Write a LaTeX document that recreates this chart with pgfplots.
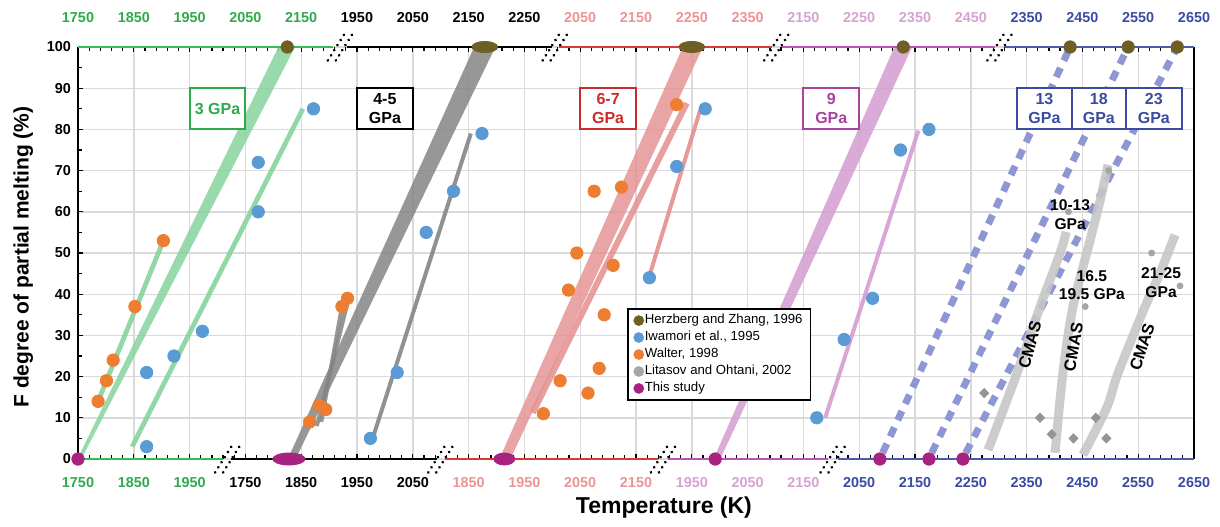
\documentclass[border=0pt]{standalone}
\usepackage{fontspec}
\setmainfont{Liberation Sans}
\usepackage{pgfplots}
\pgfplotsset{compat=1.18}
\usetikzlibrary{calc}

\definecolor{cHZ}{HTML}{6E6024}
\definecolor{cIW}{HTML}{5B9BD5}
\definecolor{cWA}{HTML}{ED7D31}
\definecolor{cLO}{HTML}{A5A5A5}
\definecolor{cTS}{HTML}{A8237F}
\definecolor{gBand}{HTML}{86D39C}
\definecolor{gText}{HTML}{2EAA4D}
\definecolor{gAxis}{HTML}{3BBA5A}
\definecolor{kBand}{HTML}{858585}
\definecolor{rBand}{HTML}{E48E8E}
\definecolor{rText}{HTML}{CC2B2B}
\definecolor{rTick}{HTML}{EC9494}
\definecolor{rAxis}{HTML}{DC3A3A}
\definecolor{pBand}{HTML}{D59CD1}
\definecolor{pText}{HTML}{A8429F}
\definecolor{pTick}{HTML}{D7A2D3}
\definecolor{pAxis}{HTML}{BA55B6}
\definecolor{bDash}{HTML}{8E97D4}
\definecolor{bText}{HTML}{3A4BA2}
\definecolor{bAxis}{HTML}{4B5BAE}
\definecolor{cmas}{HTML}{C6C6C6}
\definecolor{gridc}{HTML}{DADADA}

\newcommand\tickfont{\bfseries\fontsize{7.2}{8}\selectfont}
\newcommand\boxfont{\bfseries\fontsize{8}{9.6}\selectfont}
\tikzset{tlab/.style={font=\tickfont, anchor=center}}
\newcommand\brk[2]{%
  \draw[black, line width=1.5pt, line cap=round, dash pattern=on 0.01pt off 3pt] ([xshift=-6.2pt,yshift=-6.7pt]axis cs:#1,#2) -- ++(8.4pt,13.4pt);
  \draw[black, line width=1.5pt, line cap=round, dash pattern=on 0.01pt off 3pt] ([xshift=-2.2pt,yshift=-6.7pt]axis cs:#1,#2) -- ++(8.4pt,13.4pt);}

\begin{document}
\begin{tikzpicture}
\begin{axis}[
  name=ax, at={(0,0)}, anchor=south west,
  scale only axis, width=558pt, height=206pt,
  xmin=0, xmax=2000, ymin=0, ymax=100,
  clip=false,
  axis line style={draw=none},
  xtick={0,100,...,2000}, xticklabels={},
  minor x tick num=4,
  ytick={0,10,...,100}, minor y tick num=1,
  ytick pos=left,
  tick align=inside,
  major tick length=2.4pt, minor tick length=2.2pt,
  tick style={black, line width=0.6pt},
  grid=major, major grid style={gridc, line width=0.7pt},
  /pgf/number format/assume math mode=true,
  yticklabel style={font=\tickfont},
  P1/.style={x filter/.expression={x-1750}},
  P2/.style={x filter/.expression={x-1450}},
  P3/.style={x filter/.expression={x-1150}},
  P4/.style={x filter/.expression={x-850}},
  P5/.style={x filter/.expression={x-650}},
  mk/.style={only marks, mark=*, mark size=3.1pt},
  legend style={at={(0.492,0.367)}, anchor=north west, draw=black, line width=0.9pt,
    font=\fontsize{6.6}{7.6}\selectfont, inner xsep=3.2pt, inner ysep=2pt,
    nodes={inner sep=0.8pt}, row sep=0.6pt,
    /tikz/every even column/.append style={column sep=1.2pt},
    legend cell align=left},
  legend image code/.code={\draw[mark repeat=2,mark phase=2,#1] plot coordinates {(0pt,0pt) (4.5pt,0pt) (9pt,0pt)};},
  legend image post style={mark size=2.2pt},
]
% ---------- markers (legend series first) ----------
\addplot[P1, mk, color=cHZ] coordinates {(2125,100)};
\addlegendentry{Herzberg and Zhang, 1996}
\addplot[P1, mk, color=cIW] coordinates {(1873,3) (1873,21) (1922,25) (1973,31) (2073,60) (2073,72) (2172,85)};
\addlegendentry{Iwamori et al., 1995}
\addplot[P1, mk, color=cWA] coordinates {(1786,14) (1801,19) (1813,24) (1852,37) (1903,53)};
\addlegendentry{Walter, 1998}
\addplot[P5, only marks, mark=*, mark size=1.5pt, color=cLO] coordinates {(2425,60) (2497,70) (2455,37) (2574,50) (2625,42)};
\addlegendentry{Litasov and Ohtani, 2002}
\addplot[P1, mk, color=cTS] coordinates {(1750,0)};
\addlegendentry{This study}

% black panel 4-5 GPa
\addplot[P2, mk, color=cIW, forget plot] coordinates {(1974,5) (2022,21) (2074,55) (2123,65) (2174,79)};
\addplot[P2, mk, color=cWA, forget plot] coordinates {(1865,9) (1882,13) (1894,12) (1923,37) (1933,39)};
% red panel 6-7 GPa
\addplot[P3, mk, color=cWA, forget plot] coordinates {(1984,11) (2014,19) (2029,41) (2044,50) (2064,16) (2075,65) (2084,22) (2093,35) (2109,47) (2124,66) (2223,86)};
\addplot[P3, mk, color=cIW, forget plot] coordinates {(2174,44) (2223,71) (2274,85)};
% purple panel 9 GPa
\addplot[P4, mk, color=cIW, forget plot] coordinates {(2174,10) (2223,29) (2274,39) (2324,75) (2375,80)};
\addplot[P4, mk, color=cHZ, forget plot] coordinates {(2329,100)};
\addplot[P4, mk, color=cTS, forget plot] coordinates {(1992,0)};
% blue panel
\addplot[P5, mk, color=cHZ, forget plot] coordinates {(2428,100) (2532,100) (2620,100)};
\addplot[P5, mk, color=cTS, forget plot] coordinates {(2087,0) (2175,0) (2236,0)};
\addplot[P5, only marks, mark=diamond*, mark size=2.3pt, mark options={xscale=1.3}, color=cLO!90!black, forget plot]
  coordinates {(2274,16) (2374,10) (2395,6) (2434,5) (2474,10) (2493,5)};
% ellipses
\addplot[P2, only marks, mark=*, mark size=2.8pt, mark options={xscale=2.3}, color=cHZ, forget plot] coordinates {(2179,100)};
\addplot[P3, only marks, mark=*, mark size=2.8pt, mark options={xscale=2.3}, color=cHZ, forget plot] coordinates {(2250,100)};
\addplot[P2, only marks, mark=*, mark size=3pt, mark options={xscale=2.7}, color=cTS, forget plot] coordinates {(1828,0)};
\addplot[P3, only marks, mark=*, mark size=3pt, mark options={xscale=1.75}, color=cTS, forget plot] coordinates {(1914,0)};

% ---------- bands (wedges widening upward) and fit lines ----------
\addplot[P1, fill=gBand, draw=none, opacity=0.85, forget plot] coordinates {(1749,0) (1756,0) (2139,100) (2109,100)};
\addplot[P1, gBand, line width=2.4pt, opacity=0.9, forget plot] coordinates {(1786,14) (1903,53)};
\addplot[P1, gBand, line width=2.4pt, opacity=0.9, forget plot] coordinates {(1847,3) (2153,85)};

\addplot[P2, fill=kBand, draw=none, opacity=0.85, forget plot] coordinates {(1826,0) (1840,0) (2198,100) (2160,100)};
\addplot[P2, kBand, line width=2pt, opacity=0.85, forget plot] coordinates {(1878,8) (1935,39)};
\addplot[P2, kBand, line width=2pt, opacity=0.85, forget plot] coordinates {(1886,9) (1923,37)};
\addplot[P2, kBand, line width=2pt, opacity=0.9, forget plot] coordinates {(1979,5.4) (2154,79)};

\addplot[P3, fill=rBand, draw=none, opacity=0.8, forget plot] coordinates {(1905,0) (1925,0) (2270,100) (2234,100)};
\addplot[P3, rBand, line width=3pt, opacity=0.85, forget plot] coordinates {(1965,11.2) (2241,86.4)};
\addplot[P3, rBand, line width=2pt, opacity=0.9, forget plot] coordinates {(2173,44) (2265,84.7)};

\addplot[P4, fill=pBand, draw=none, opacity=0.85, forget plot] coordinates {(1989,0) (2001,0) (2345,100) (2313,100)};
\addplot[P4, pBand, line width=2pt, opacity=0.9, forget plot] coordinates {(2189,10) (2356,79.7)};

\addplot[P5, bDash, line width=3.5pt, dash pattern=on 5pt off 4pt, forget plot] coordinates {(2092,1.5) (2428,100)};
\addplot[P5, bDash, line width=3.5pt, dash pattern=on 5pt off 4pt, forget plot] coordinates {(2180,1.5) (2532,100)};
\addplot[P5, bDash, line width=3.5pt, dash pattern=on 5pt off 4pt, forget plot] coordinates {(2241,1.5) (2620,100)};

\addplot[P5, cmas, line width=4.5pt, smooth, opacity=0.9, forget plot] coordinates {(2281,2.2) (2333,20.9) (2374,36.9) (2410,50) (2421,55.1)};
\addplot[P5, cmas, line width=4.5pt, smooth, opacity=0.9, forget plot] coordinates {(2401,1.5) (2415,20.9) (2433,36.9) (2464,53.2) (2482,62.9) (2496,71.4)};
\addplot[P5, cmas, line width=4.5pt, smooth, opacity=0.9, forget plot] coordinates {(2451,1) (2494,12.6) (2514,20.9) (2562,36.9) (2589,45.1) (2616,54.4)};

% ---------- axis lines ----------
\draw[black, line width=0.8pt] (axis cs:0,0) -- (axis cs:0,100);
\draw[black, line width=0.8pt] (axis cs:2000,0) -- (axis cs:2000,100);
\draw[gAxis, line width=1.1pt] (axis cs:0,100) -- (axis cs:457,100);
\draw[black, line width=1.1pt] (axis cs:482,100) -- (axis cs:849,100);
\draw[rAxis, line width=1.1pt] (axis cs:862,100) -- (axis cs:1244,100);
\draw[pAxis, line width=1.1pt] (axis cs:1261,100) -- (axis cs:1643,100);
\draw[bAxis, line width=1.1pt] (axis cs:1661,100) -- (axis cs:2000,100);
\draw[gAxis, line width=1.1pt] (axis cs:0,0) -- (axis cs:260,0);
\draw[black, line width=1.1pt] (axis cs:275,0) -- (axis cs:643,0);
\draw[rAxis, line width=1.1pt] (axis cs:658,0) -- (axis cs:1040,0);
\draw[pAxis, line width=1.1pt] (axis cs:1057,0) -- (axis cs:1344,0);
\draw[bAxis, line width=1.1pt] (axis cs:1362,0) -- (axis cs:2000,0);

% break marks
\brk{470}{100}
\brk{855}{100}
\brk{1252}{100}
\brk{1652}{100}
\brk{268}{0}
\brk{650}{0}
\brk{1049}{0}
\brk{1353}{0}

% ---------- tick labels ----------
\node[tlab, gText] at (axis cs:0,107.2) {1750};
\node[tlab, gText] at (axis cs:100,107.2) {1850};
\node[tlab, gText] at (axis cs:200,107.2) {1950};
\node[tlab, gText] at (axis cs:300,107.2) {2050};
\node[tlab, gText] at (axis cs:400,107.2) {2150};
\node[tlab, black] at (axis cs:500,107.2) {1950};
\node[tlab, black] at (axis cs:600,107.2) {2050};
\node[tlab, black] at (axis cs:700,107.2) {2150};
\node[tlab, black] at (axis cs:800,107.2) {2250};
\node[tlab, rTick] at (axis cs:900,107.2) {2050};
\node[tlab, rTick] at (axis cs:1000,107.2) {2150};
\node[tlab, rTick] at (axis cs:1100,107.2) {2250};
\node[tlab, rTick] at (axis cs:1200,107.2) {2350};
\node[tlab, pTick] at (axis cs:1300,107.2) {2150};
\node[tlab, pTick] at (axis cs:1400,107.2) {2250};
\node[tlab, pTick] at (axis cs:1500,107.2) {2350};
\node[tlab, pTick] at (axis cs:1600,107.2) {2450};
\node[tlab, bText] at (axis cs:1700,107.2) {2350};
\node[tlab, bText] at (axis cs:1800,107.2) {2450};
\node[tlab, bText] at (axis cs:1900,107.2) {2550};
\node[tlab, bText] at (axis cs:2000,107.2) {2650};

\node[tlab, gText] at (axis cs:0,-5.6) {1750};
\node[tlab, gText] at (axis cs:100,-5.6) {1850};
\node[tlab, gText] at (axis cs:200,-5.6) {1950};
\node[tlab, black] at (axis cs:300,-5.6) {1750};
\node[tlab, black] at (axis cs:400,-5.6) {1850};
\node[tlab, black] at (axis cs:500,-5.6) {1950};
\node[tlab, black] at (axis cs:600,-5.6) {2050};
\node[tlab, rTick] at (axis cs:700,-5.6) {1850};
\node[tlab, rTick] at (axis cs:800,-5.6) {1950};
\node[tlab, rTick] at (axis cs:900,-5.6) {2050};
\node[tlab, rTick] at (axis cs:1000,-5.6) {2150};
\node[tlab, pTick] at (axis cs:1100,-5.6) {1950};
\node[tlab, pTick] at (axis cs:1200,-5.6) {2050};
\node[tlab, pTick] at (axis cs:1300,-5.6) {2150};
\node[tlab, bText] at (axis cs:1400,-5.6) {2050};
\node[tlab, bText] at (axis cs:1500,-5.6) {2150};
\node[tlab, bText] at (axis cs:1600,-5.6) {2250};
\node[tlab, bText] at (axis cs:1700,-5.6) {2350};
\node[tlab, bText] at (axis cs:1800,-5.6) {2450};
\node[tlab, bText] at (axis cs:1900,-5.6) {2550};
\node[tlab, bText] at (axis cs:2000,-5.6) {2650};

% axis titles
\node[rotate=90, font=\bfseries\fontsize{10.5}{12}\selectfont] at (axis cs:-98,49) {F degree of partial melting (\%)};
\node[font=\bfseries\fontsize{11.5}{13}\selectfont] at (axis cs:1050,-11.9) {Temperature (K)};

% ---------- panel boxes ----------
\draw[gText, line width=1pt, fill=white] (axis cs:200,80) rectangle (axis cs:300,90);
\node[font=\boxfont, gText] at (axis cs:250,85) {3 GPa};
\draw[black, line width=1pt, fill=white] (axis cs:500,80) rectangle (axis cs:600,90);
\node[font=\boxfont, black, align=center] at (axis cs:550,85) {4-5\\GPa};
\draw[rText, line width=1pt, fill=white] (axis cs:900,80) rectangle (axis cs:1000,90);
\node[font=\boxfont, rText, align=center] at (axis cs:950,85) {6-7\\GPa};
\draw[pText, line width=1pt, fill=white] (axis cs:1300,80) rectangle (axis cs:1400,90);
\node[font=\boxfont, pText, align=center] at (axis cs:1350,85) {9\\GPa};
\draw[bText, line width=1pt, fill=white] (axis cs:1683,80) rectangle (axis cs:1781,90);
\draw[bText, line width=1pt, fill=white] (axis cs:1781,80) rectangle (axis cs:1878,90);
\draw[bText, line width=1pt, fill=white] (axis cs:1878,80) rectangle (axis cs:1978,90);
\node[font=\boxfont, bText, align=center] at (axis cs:1732,85) {13\\GPa};
\node[font=\boxfont, bText, align=center] at (axis cs:1829.5,85) {18\\GPa};
\node[font=\boxfont, bText, align=center] at (axis cs:1928,85) {23\\GPa};

% ---------- blue panel annotations ----------
\node[font=\bfseries\fontsize{7.8}{9.4}\selectfont, align=center] at (axis cs:1778,59.3) {10-13\\GPa};
\node[font=\bfseries\fontsize{7.8}{9.4}\selectfont, align=center] at (axis cs:1817,42.2) {16.5\\19.5 GPa};
\node[font=\bfseries\fontsize{7.8}{9.4}\selectfont, align=center] at (axis cs:1941,42.8) {21-25\\GPa};
\node[font=\bfseries\fontsize{8.3}{10}\selectfont, rotate=75, inner sep=0pt] at (axis cs:1706,27.7) {CMAS};
\node[font=\bfseries\fontsize{8.3}{10}\selectfont, rotate=80, inner sep=0pt] at (axis cs:1784,27.2) {CMAS};
\node[font=\bfseries\fontsize{8.3}{10}\selectfont, rotate=72, inner sep=0pt] at (axis cs:1907,27.2) {CMAS};
\end{axis}
\pgfresetboundingbox
\path[use as bounding box] ($(ax.south west)+(-39pt,-33.5pt)$) rectangle ($(ax.north east)+(13pt,23.5pt)$);
\end{tikzpicture}
\end{document}
